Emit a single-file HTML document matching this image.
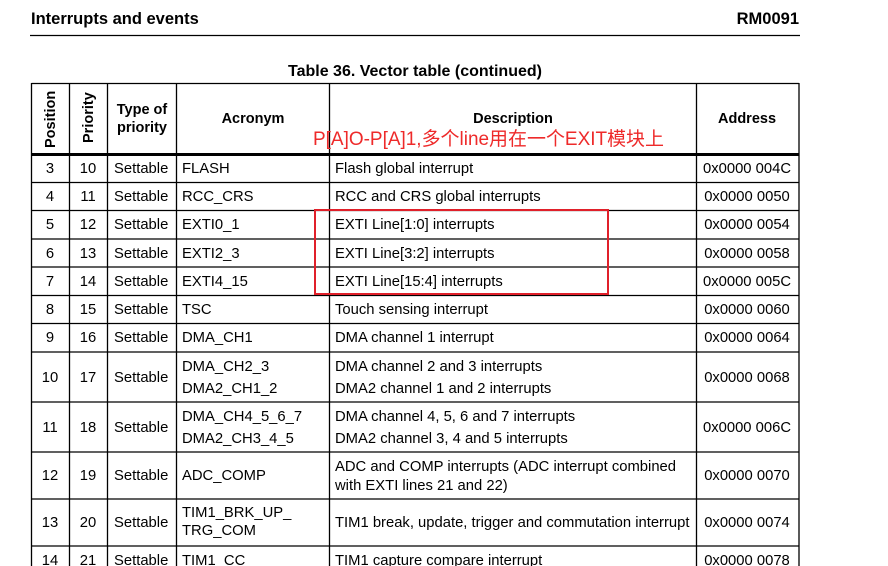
<!DOCTYPE html>
<html><head><meta charset="utf-8"><style>
html,body{margin:0;padding:0;background:#fff;width:888px;height:566px;overflow:hidden}
svg{display:block}
text{font-family:"Liberation Sans",Arial,sans-serif;fill:#000}
.t{font-size:14.8px}
.b{font-weight:bold}
.c{text-anchor:middle}
</style></head><body>
<svg width="888" height="566" viewBox="0 0 888 566" xmlns="http://www.w3.org/2000/svg">
<text x="31" y="24" class="b" font-size="16.5">Interrupts and events</text>
<text x="799" y="24" class="b" font-size="16.5" text-anchor="end">RM0091</text>
<line x1="30" y1="35.5" x2="800" y2="35.5" stroke="#000" stroke-width="1.2"/>
<text x="415" y="76" class="b c" font-size="16">Table 36. Vector table (continued)</text>

<g stroke="#000" stroke-width="1.3" fill="none">
<line x1="31.5" y1="83.5" x2="799" y2="83.5"/>
<line x1="31.5" y1="83" x2="31.5" y2="566"/>
<line x1="69.5" y1="83" x2="69.5" y2="566"/>
<line x1="107.5" y1="83" x2="107.5" y2="566"/>
<line x1="176.5" y1="83" x2="176.5" y2="566"/>
<line x1="329.5" y1="83" x2="329.5" y2="566"/>
<line x1="696.5" y1="83" x2="696.5" y2="566"/>
<line x1="799" y1="83" x2="799" y2="566"/>
<line x1="31.5" y1="182.5" x2="799" y2="182.5"/>
<line x1="31.5" y1="210.5" x2="799" y2="210.5"/>
<line x1="31.5" y1="239" x2="799" y2="239"/>
<line x1="31.5" y1="267" x2="799" y2="267"/>
<line x1="31.5" y1="295.5" x2="799" y2="295.5"/>
<line x1="31.5" y1="323.5" x2="799" y2="323.5"/>
<line x1="31.5" y1="352" x2="799" y2="352"/>
<line x1="31.5" y1="402" x2="799" y2="402"/>
<line x1="31.5" y1="452" x2="799" y2="452"/>
<line x1="31.5" y1="499" x2="799" y2="499"/>
<line x1="31.5" y1="546" x2="799" y2="546"/>
</g>
<rect x="31" y="153" width="768.5" height="3" fill="#000"/>

<text class="b" font-size="14.5" transform="translate(55,148) rotate(-90)">Position</text>
<text class="b" font-size="14.5" transform="translate(93,143) rotate(-90)">Priority</text>
<text x="142" y="114" class="b c" font-size="14.5">Type of</text>
<text x="142" y="132" class="b c" font-size="14.5">priority</text>
<text x="253" y="123" class="b c" font-size="14.5">Acronym</text>
<text x="513" y="123" class="b c" font-size="14.5">Description</text>
<text x="747" y="123" class="b c" font-size="14.5">Address</text>

<g>
<text class="t c" x="50" y="173">3</text><text class="t c" x="88" y="173">10</text><text class="t" x="114" y="173">Settable</text><text class="t" x="182" y="173">FLASH</text><text class="t" x="335" y="173">Flash global interrupt</text><text class="t c" x="747" y="173">0x0000 004C</text>
<text class="t c" x="50" y="201">4</text><text class="t c" x="88" y="201">11</text><text class="t" x="114" y="201">Settable</text><text class="t" x="182" y="201">RCC_CRS</text><text class="t" x="335" y="201">RCC and CRS global interrupts</text><text class="t c" x="747" y="201">0x0000 0050</text>
<text class="t c" x="50" y="229">5</text><text class="t c" x="88" y="229">12</text><text class="t" x="114" y="229">Settable</text><text class="t" x="182" y="229">EXTI0_1</text><text class="t" x="335" y="229">EXTI Line[1:0] interrupts</text><text class="t c" x="747" y="229">0x0000 0054</text>
<text class="t c" x="50" y="258">6</text><text class="t c" x="88" y="258">13</text><text class="t" x="114" y="258">Settable</text><text class="t" x="182" y="258">EXTI2_3</text><text class="t" x="335" y="258">EXTI Line[3:2] interrupts</text><text class="t c" x="747" y="258">0x0000 0058</text>
<text class="t c" x="50" y="286">7</text><text class="t c" x="88" y="286">14</text><text class="t" x="114" y="286">Settable</text><text class="t" x="182" y="286">EXTI4_15</text><text class="t" x="335" y="286">EXTI Line[15:4] interrupts</text><text class="t c" x="747" y="286">0x0000 005C</text>
<text class="t c" x="50" y="314">8</text><text class="t c" x="88" y="314">15</text><text class="t" x="114" y="314">Settable</text><text class="t" x="182" y="314">TSC</text><text class="t" x="335" y="314">Touch sensing interrupt</text><text class="t c" x="747" y="314">0x0000 0060</text>
<text class="t c" x="50" y="342">9</text><text class="t c" x="88" y="342">16</text><text class="t" x="114" y="342">Settable</text><text class="t" x="182" y="342">DMA_CH1</text><text class="t" x="335" y="342">DMA channel 1 interrupt</text><text class="t c" x="747" y="342">0x0000 0064</text>
<text class="t c" x="50" y="382">10</text><text class="t c" x="88" y="382">17</text><text class="t" x="114" y="382">Settable</text><text class="t" x="182" y="371">DMA_CH2_3</text><text class="t" x="182" y="393">DMA2_CH1_2</text><text class="t" x="335" y="371">DMA channel 2 and 3 interrupts</text><text class="t" x="335" y="393">DMA2 channel 1 and 2 interrupts</text><text class="t c" x="747" y="382">0x0000 0068</text>
<text class="t c" x="50" y="432">11</text><text class="t c" x="88" y="432">18</text><text class="t" x="114" y="432">Settable</text><text class="t" x="182" y="421">DMA_CH4_5_6_7</text><text class="t" x="182" y="443">DMA2_CH3_4_5</text><text class="t" x="335" y="421">DMA channel 4, 5, 6 and 7 interrupts</text><text class="t" x="335" y="443">DMA2 channel 3, 4 and 5 interrupts</text><text class="t c" x="747" y="432">0x0000 006C</text>
<text class="t c" x="50" y="480">12</text><text class="t c" x="88" y="480">19</text><text class="t" x="114" y="480">Settable</text><text class="t" x="182" y="480">ADC_COMP</text><text class="t" x="335" y="471">ADC and COMP interrupts (ADC interrupt combined</text><text class="t" x="335" y="490">with EXTI lines 21 and 22)</text><text class="t c" x="747" y="480">0x0000 0070</text>
<text class="t c" x="50" y="527">13</text><text class="t c" x="88" y="527">20</text><text class="t" x="114" y="527">Settable</text><text class="t" x="182" y="517">TIM1_BRK_UP_</text><text class="t" x="182" y="535">TRG_COM</text><text class="t" x="335" y="527">TIM1 break, update, trigger and commutation interrupt</text><text class="t c" x="747" y="527">0x0000 0074</text>
<text class="t c" x="50" y="565">14</text><text class="t c" x="88" y="565">21</text><text class="t" x="114" y="565">Settable</text><text class="t" x="182" y="565">TIM1_CC</text><text class="t" x="335" y="565">TIM1 capture compare interrupt</text><text class="t c" x="747" y="565">0x0000 0078</text>
</g>

<rect x="315" y="210" width="293" height="84" fill="none" stroke="#e0202a" stroke-width="2"/>
<text x="313" y="145" font-size="19" style="fill:#ee2a2a;font-family:'Liberation Sans','Noto Sans CJK SC',sans-serif" textLength="351" lengthAdjust="spacingAndGlyphs">P[A]O-P[A]1,多个line用在一个EXIT模块上</text>
</svg>
</body></html>
